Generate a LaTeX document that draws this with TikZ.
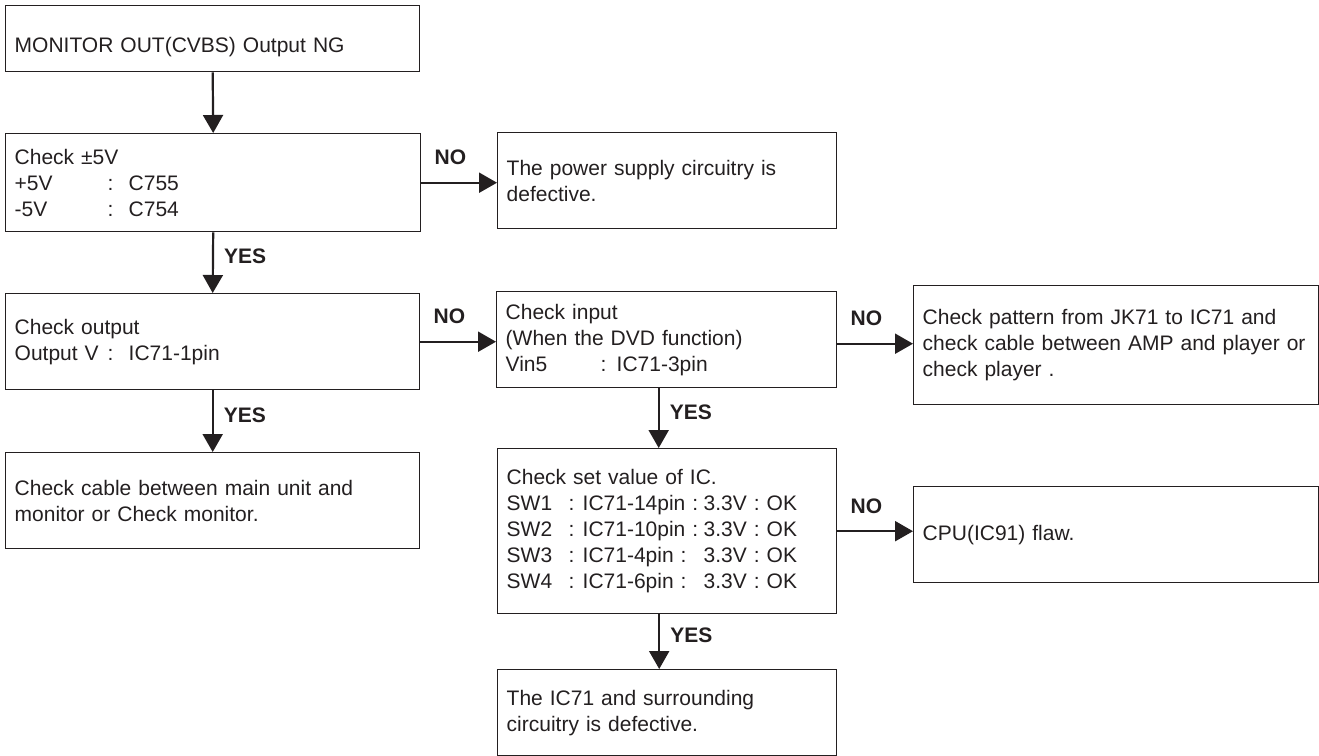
\documentclass[tikz,border=0pt]{standalone}
\usepackage{fontspec}
\setmainfont{Liberation Sans}
\usepackage{xcolor}
\usepackage{tikz}
\usetikzlibrary{calc,arrows.meta}
\definecolor{ink}{HTML}{231F20}
\newcommand{\fld}[2]{\makebox[#1][l]{#2}}

\begin{document}
\begin{tikzpicture}[x=0.5pt,y=-0.5pt,ink,
  box/.style={draw,line width=0.7pt,rectangle,anchor=north west,align=left,inner xsep=4.5pt,font=\fontsize{10.5}{13}\selectfont},
  flow/.style={line width=1.1pt,-{Triangle[length=9pt,width=10pt]}},
  nolbl/.style={pos=0.16,anchor=base west,yshift=9pt,inner sep=0pt,font=\fontsize{10.5}{13}\selectfont\bfseries},
  yeslbl/.style={pos=0.52,anchor=base west,xshift=5pt,inner sep=0pt,font=\fontsize{10.5}{13}\selectfont\bfseries}]
\useasboundingbox (0,0) rectangle (1319,756);
\node[box,text width=198pt,minimum height=33pt,text height=16pt,text depth=2pt] (start) at (5,5) {MONITOR OUT(CVBS) Output NG};
\node[box,text width=198.5pt,minimum height=49pt] (pwrchk) at (5,133) {Check ±5V\\ \fld{46.5pt}{+5V}\fld{10.5pt}{:}C755\\ \fld{46.5pt}{-5V}\fld{10.5pt}{:}C754};
\node[box,text width=160.5pt,minimum height=48pt] (pwrbad) at (497,132) {The power supply circuitry is\\ defective.};
\node[box,text width=198pt,minimum height=48pt] (outchk) at (5,293) {Check output\\ \fld{46.5pt}{Output V}\fld{10.5pt}{:}IC71-1pin};
\node[box,text width=161pt,minimum height=48pt] (inchk) at (496,291) {Check input\\ (When the DVD function)\\ \fld{47.5pt}{Vin5}\fld{8pt}{:}IC71-3pin};
\node[box,text width=193.5pt,minimum height=59.5pt] (pattern) at (913,285) {Check pattern from JK71 to IC71 and\\ check cable between AMP and player or\\ check player .};
\node[box,text width=198pt,minimum height=48pt] (cable) at (5,452) {Check cable between main unit and\\ monitor or Check monitor.};
\node[box,text width=160.5pt,minimum height=82.5pt] (setchk) at (497,448) {Check set value of IC.\\
 \fld{31pt}{SW1}\fld{7pt}{:}\fld{60.5pt}{IC71-14pin :}3.3V : OK\\
 \fld{31pt}{SW2}\fld{7pt}{:}\fld{60.5pt}{IC71-10pin :}3.3V : OK\\
 \fld{31pt}{SW3}\fld{7pt}{:}\fld{60.5pt}{IC71-4pin :}3.3V : OK\\
 \fld{31pt}{SW4}\fld{7pt}{:}\fld{60.5pt}{IC71-6pin :}3.3V : OK};
\node[box,text width=193.5pt,minimum height=48pt] (cpu) at (913,486) {CPU(IC91) flaw.};
\node[box,text width=160.5pt,minimum height=43pt] (icbad) at (497,669) {The IC71 and surrounding\\ circuitry is defective.};
\draw[flow] (start.south) -- (pwrchk.north);
\draw[flow] (pwrchk.south) -- node[yeslbl]{YES} (outchk.north);
\draw[flow] (pwrchk.east) -- node[nolbl]{NO} (pwrchk.east -| pwrbad.west);
\draw[flow] (outchk.east) -- node[nolbl]{NO} (outchk.east -| inchk.west);
\draw[flow] (outchk.south) -- node[yeslbl]{YES} (cable.north);
\draw[flow] ([yshift=-2pt]inchk.east) -- node[nolbl]{NO} ([yshift=-2pt]inchk.east -| pattern.west);
\draw[flow] ([xshift=-4pt]inchk.south) -- node[yeslbl]{YES} ([xshift=-4pt]inchk.south |- setchk.north);
\draw[flow] (setchk.east) -- node[nolbl]{NO} (setchk.east -| cpu.west);
\draw[flow] ([xshift=-4pt]setchk.south) -- node[yeslbl]{YES} ([xshift=-4pt]setchk.south |- icbad.north);
\end{tikzpicture}
\end{document}
